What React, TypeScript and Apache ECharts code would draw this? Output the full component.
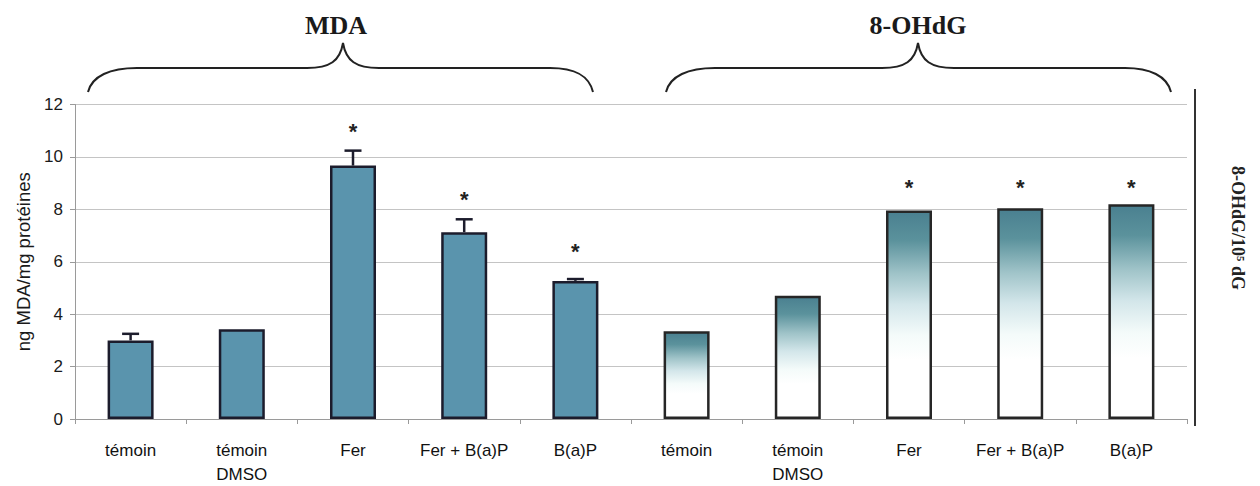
import React, { useEffect, useRef } from "react";
import * as echarts from "echarts";

const categories = ["témoin", "témoin\nDMSO", "Fer", "Fer + B(a)P", "B(a)P"];
const xLabels = [...categories, ...categories];
const mdaValues = [3.0, 3.42, 9.67, 7.13, 5.27];
const mdaErrors = [0.25, 0, 0.57, 0.49, 0.07];
const ohdgValues = [3.35, 4.7, 7.96, 8.04, 8.19];
const mdaStars = [null, null, 11.15, 8.57, 6.6];
const ohdgStars = [null, null, 9.02, 9.02, 9.02];
const groupTitles = ["MDA", "8-OHdG"];
const rightAxisName = "8-OHdG/10⁵ dG";
const yMin = 0;
const yMax = 12;
const yInterval = 2;

const BRACE_MDA =
  "M88,92 C92,76 110,68 137,68 L307,68 C330,68 340,61 343,43 C346,61 356,68 379,68 L550,68 C576,68 589,76 593,92";
const BRACE_OHDG =
  "M666,92 C670,76 688,68 715,68 L882,68 C905,68 915,61 918,43 C921,61 931,68 954,68 L1125,68 C1150,68 1167,76 1171,92";

let registered = false;
function registerShapes() {
  if (registered) return;
  echarts.graphic.registerShape("braceMda", echarts.graphic.extendPath(BRACE_MDA, {}));
  echarts.graphic.registerShape("braceOhdg", echarts.graphic.extendPath(BRACE_OHDG, {}));
  registered = true;
}

export default function App() {
  const ref = useRef<HTMLDivElement>(null);
  useEffect(() => {
    if (!ref.current) return;
    registerShapes();
    const chart = echarts.init(ref.current, null, { renderer: "svg" });
    const empty5 = ["-", "-", "-", "-", "-"];
    const errData = mdaValues
      .map((v, i) => [i, v, mdaErrors[i]])
      .filter((d) => d[2] > 0);
    const starData: number[][] = [];
    mdaStars.forEach((s, i) => {
      if (s != null) starData.push([i, s]);
    });
    ohdgStars.forEach((s, i) => {
      if (s != null) starData.push([i + 5, s]);
    });
    const gradient = new echarts.graphic.LinearGradient(0, 0, 0, 1, [
      { offset: 0, color: "#4a8090" },
      { offset: 0.14, color: "#5b929c" },
      { offset: 0.3, color: "#9fc3c8" },
      { offset: 0.45, color: "#d3e6ea" },
      { offset: 0.6, color: "#f4fbfa" },
      { offset: 0.72, color: "#ffffff" },
      { offset: 1, color: "#ffffff" },
    ]);
    const option: any = {
      animation: false,
      backgroundColor: "#ffffff",
      grid: { left: 75, right: 73, top: 104.5, bottom: 65, containLabel: false },
      xAxis: {
        type: "category",
        data: xLabels,
        axisLine: { show: true, lineStyle: { color: "#9a9a9a", width: 1 } },
        axisTick: { show: true, length: 5, lineStyle: { color: "#9a9a9a" } },
        axisLabel: {
          interval: 0,
          margin: 19,
          color: "#111111",
          fontFamily: "Liberation Sans, Arial, sans-serif",
          fontSize: 17,
          lineHeight: 24,
        },
      },
      yAxis: {
        type: "value",
        min: yMin,
        max: yMax,
        interval: yInterval,
        name: "ng MDA/mg protéines",
        nameLocation: "middle",
        nameRotate: 90,
        nameGap: 36,
        nameTextStyle: {
          fontFamily: "Liberation Sans, Arial, sans-serif",
          fontSize: 18.5,
          color: "#1a1a1a",
        },
        axisLine: { show: true, lineStyle: { color: "#9a9a9a" } },
        axisTick: { show: true, length: 5, lineStyle: { color: "#9a9a9a" } },
        axisLabel: {
          margin: 12,
          color: "#1a1a1a",
          fontFamily: "Liberation Sans, Arial, sans-serif",
          fontSize: 17,
        },
        splitLine: { show: true, lineStyle: { color: "#c4c4c4", width: 1 } },
      },
      series: [
        {
          name: "MDA",
          type: "bar",
          data: [...mdaValues, ...empty5],
          barWidth: 46,
          barGap: "-100%",
          itemStyle: { color: "#5a94ad", borderColor: "#1c1c2c", borderWidth: 2.5 },
        },
        {
          name: "8-OHdG",
          type: "bar",
          data: [...empty5, ...ohdgValues],
          barWidth: 46,
          barGap: "-100%",
          itemStyle: { color: gradient, borderColor: "#262626", borderWidth: 2.5 },
        },
        {
          name: "MDA error",
          type: "custom",
          data: errData,
          encode: { x: 0, y: 1 },
          z: 5,
          renderItem: (params: any, api: any) => {
            const base = api.coord([api.value(0), api.value(1)]);
            const top = api.coord([api.value(0), api.value(1) + api.value(2)]);
            const st = { stroke: "#1c1c2c", lineWidth: 2.5 };
            return {
              type: "group",
              children: [
                { type: "line", shape: { x1: base[0], y1: base[1], x2: top[0], y2: top[1] }, style: st },
                { type: "line", shape: { x1: top[0] - 8.5, y1: top[1], x2: top[0] + 8.5, y2: top[1] }, style: st },
              ],
            };
          },
        },
        {
          name: "significance",
          type: "custom",
          data: starData,
          encode: { x: 0, y: 1 },
          z: 6,
          renderItem: (params: any, api: any) => {
            const p = api.coord([api.value(0), api.value(1)]);
            return {
              type: "text",
              x: p[0],
              y: p[1] + 5,
              style: {
                text: "*",
                textAlign: "center",
                textVerticalAlign: "middle",
                font: "bold 22px Liberation Sans, Arial, sans-serif",
                fill: "#222222",
              },
            };
          },
        },
      ],
      graphic: [
        {
          type: "braceMda",
          x: 0,
          y: 0,
          style: { fill: "none", stroke: "#222222", lineWidth: 2 },
        },
        {
          type: "braceOhdg",
          x: 0,
          y: 0,
          style: { fill: "none", stroke: "#222222", lineWidth: 2 },
        },
        {
          type: "text",
          x: 336,
          y: 25,
          style: {
            text: groupTitles[0],
            textAlign: "center",
            textVerticalAlign: "middle",
            font: "bold 26px Liberation Serif, Times New Roman, serif",
            fill: "#1a1a1a",
          },
        },
        {
          type: "text",
          x: 918,
          y: 25,
          style: {
            text: groupTitles[1],
            textAlign: "center",
            textVerticalAlign: "middle",
            font: "bold 26px Liberation Serif, Times New Roman, serif",
            fill: "#1a1a1a",
          },
        },
        {
          type: "line",
          shape: { x1: 1195, y1: 89, x2: 1195, y2: 426 },
          style: { stroke: "#333333", lineWidth: 2 },
        },
        {
          type: "text",
          x: 1238,
          y: 228,
          rotation: -Math.PI / 2,
          style: {
            text: rightAxisName,
            textAlign: "center",
            textVerticalAlign: "middle",
            font: "bold 18px Liberation Serif, Times New Roman, serif",
            fill: "#222222",
          },
        },
      ],
    };
    chart.setOption(option);
    return () => chart.dispose();
  }, []);
  return (
    <div
      ref={ref}
      style={{ position: "fixed", left: 0, top: 0, width: 1260, height: 486, background: "#fff" }}
    />
  );
}
